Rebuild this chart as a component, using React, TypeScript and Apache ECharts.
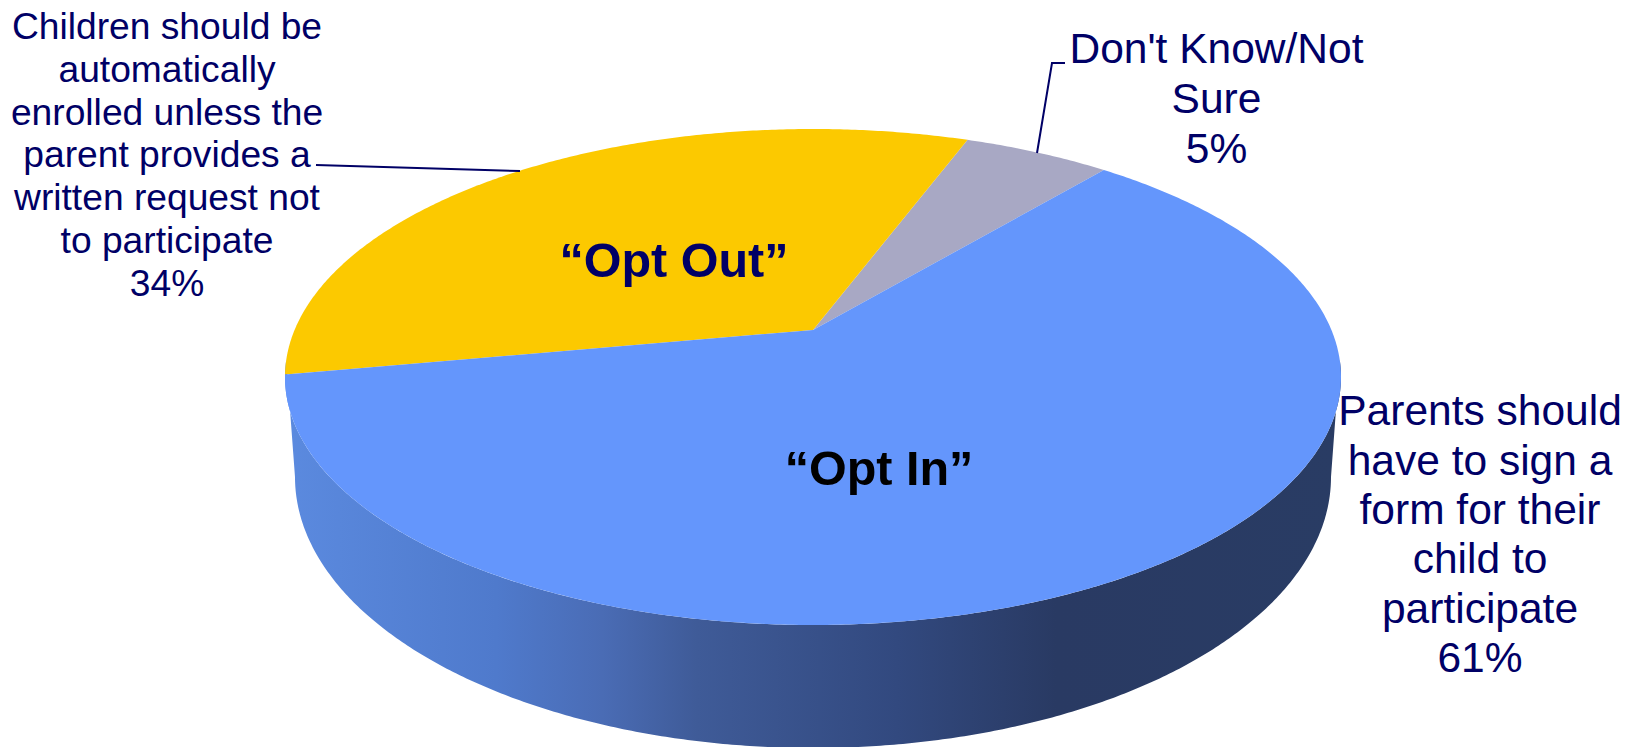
import React, { useEffect, useRef } from "react";
import * as echarts from "echarts";

const sliceNames = ["Don't Know/Not Sure", "Opt Out", "Opt In"];
const sliceValues = [5.4, 33.6, 61];
const sliceColors = ["#A8A8C4", "#FCC900", "#6496FC"];

const dontKnowLines = ["Don't Know/Not", "Sure", "5%"];
const optOutLines = [
  "Children should be",
  "automatically",
  "enrolled unless the",
  "parent provides a",
  "written request not",
  "to participate",
  "34%",
];
const optInLines = [
  "Parents should",
  "have to sign a",
  "form for their",
  "child to",
  "participate",
  "61%",
];

const NAVY = "#000066";
const FONT = '"Liberation Sans", Arial, sans-serif';

const START_DEG = 50;
const TOP = { cx: 813, cy: 377, rx: 528, ry: 248 };
const BOTTOM = { cx: 813, cy: 477, rx: 518, ry: 271 };
const TILT = -0.19;

// Maps an angle on the pie to the picture, with the hub shifted back by the perspective.
function topPoint(deg: number, r = 1): number[] {
  const a = (deg * Math.PI) / 180;
  const x = r * Math.cos(a);
  const y = -r * Math.sin(a);
  const d = 1 + TILT * y;
  return [
    TOP.cx + (TOP.rx * x * Math.sqrt(1 - TILT * TILT)) / d,
    TOP.cy + (TOP.ry * (y + TILT)) / d,
  ];
}

function ellipsePoint(e: typeof TOP, deg: number): number[] {
  const a = (deg * Math.PI) / 180;
  return [e.cx + e.rx * Math.cos(a), e.cy - e.ry * Math.sin(a)];
}

function renderSide() {
  const pts: number[][] = [];
  for (let d = 176; d <= 364; d += 0.5) pts.push(ellipsePoint(TOP, d));
  for (let d = 360; d >= 180; d -= 0.5) pts.push(ellipsePoint(BOTTOM, d));
  return {
    type: "polygon",
    shape: { points: pts },
    style: {
      fill: new echarts.graphic.LinearGradient(0, 0, 1, 0, [
        { offset: 0, color: "#5B8ADF" },
        { offset: 0.2, color: "#4F7ACC" },
        { offset: 0.3, color: "#4A6CB5" },
        { offset: 0.39, color: "#3F5B98" },
        { offset: 0.58, color: "#32497F" },
        { offset: 0.73, color: "#293A63" },
        { offset: 1, color: "#293C64" },
      ]),
    },
  };
}

function renderSlice(params: any, api: any) {
  const total = sliceValues.reduce((s, v) => s + v, 0);
  const idx = params.dataIndex;
  let from = START_DEG;
  for (let i = 0; i < idx; i++) from += (sliceValues[i] / total) * 360;
  const sweep = (api.value(0) / total) * 360;
  const pts: number[][] = [topPoint(0, 0)];
  const steps = Math.ceil(sweep * 2);
  for (let s = 0; s <= steps; s++) pts.push(topPoint(from + (sweep * s) / steps));
  const face = {
    type: "polygon",
    shape: { points: pts },
    style: { fill: sliceColors[idx] },
  };
  return { type: "group", children: idx === 0 ? [renderSide(), face] : [face] };
}

function block(lines: string[], cx: number, top: number, size: number, lineHeight: number) {
  return {
    type: "text",
    z: 10,
    x: cx,
    y: top,
    style: {
      text: lines.join("\n"),
      fill: NAVY,
      fontSize: size,
      fontFamily: FONT,
      lineHeight,
      align: "center",
      verticalAlign: "top",
    },
  };
}

function bold(text: string, cx: number, cy: number, color: string) {
  return {
    type: "text",
    z: 10,
    x: cx,
    y: cy,
    style: {
      text,
      fill: color,
      fontSize: 48.5,
      fontWeight: "bold",
      fontFamily: FONT,
      align: "center",
      verticalAlign: "middle",
    },
  };
}

function leader(points: number[][]) {
  return {
    type: "polyline",
    z: 10,
    shape: { points },
    style: { stroke: NAVY, lineWidth: 2, fill: "none" },
  };
}

export default function App() {
  const ref = useRef<HTMLDivElement>(null);
  useEffect(() => {
    document.body.style.margin = "0";
    const chart = echarts.init(ref.current!, null, { renderer: "svg" });
    chart.setOption({
      animation: false,
      backgroundColor: "#FFFFFF",
      series: [
        {
          type: "custom",
          coordinateSystem: "none",
          renderItem: renderSlice,
          silent: true,
          data: sliceValues.map((v, i) => ({ name: sliceNames[i], value: [v] })),
        },
      ],
      graphic: [
        bold("\u201COpt Out\u201D", 674, 260, NAVY),
        bold("\u201COpt In\u201D", 879, 468, "#000000"),
        block(optOutLines, 167, 5, 37.2, 42.7),
        block(dontKnowLines, 1216.5, 23, 42.5, 50),
        block(optInLines, 1480, 386, 42.5, 49.4),
        leader([[316, 165], [520, 171]]),
        leader([[1065, 63], [1052, 63], [1037, 153]]),
      ],
    });
    return () => chart.dispose();
  }, []);
  return <div ref={ref} style={{ position: "absolute", left: 0, top: 0, width: 1638, height: 747 }} />;
}
